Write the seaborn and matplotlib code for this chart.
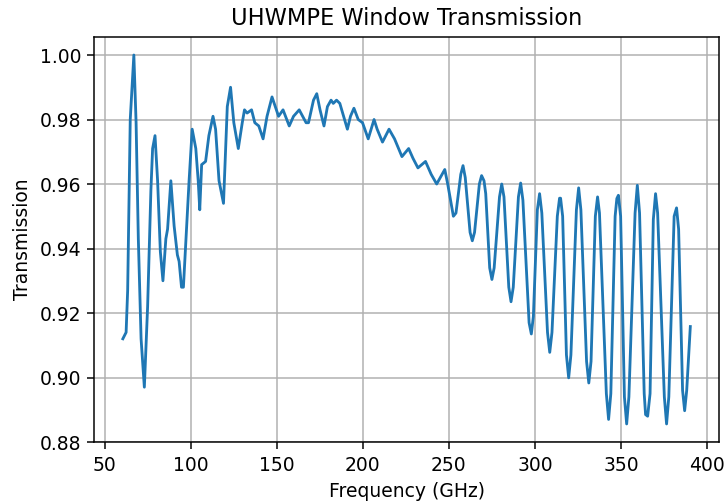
import matplotlib
matplotlib.use("Agg")
import matplotlib.pyplot as plt
import seaborn as sns
import pandas as pd

# Measured window transmission vs frequency
frequency_ghz = [
    60.5, 62.4, 63.3, 64.8, 66.9, 68.2, 69.5, 71.1, 73.0, 74.9,
    76.8, 77.8, 79.2, 80.7, 82.3, 83.8, 85.5, 86.5, 88.4, 90.3,
    92.2, 93.2, 94.6, 95.7, 97.6, 99.0, 100.8, 102.9, 104.3, 105.2,
    106.3, 108.6, 110.5, 112.9, 114.4, 116.4, 119.0, 121.2, 123.1, 125.0,
    127.6, 129.9, 131.2, 132.7, 135.3, 137.2, 139.5, 142.0, 144.3, 147.2,
    149.1, 151.0, 153.6, 157.2, 159.7, 163.0, 167.0, 168.4, 171.3, 173.2,
    175.1, 177.4, 179.4, 181.5, 182.8, 184.7, 186.6, 188.8, 191.0, 192.8,
    194.8, 197.3, 199.8, 203.1, 206.5, 208.3, 211.4, 215.2, 218.4, 222.7,
    226.6, 229.1, 232.0, 236.4, 239.7, 242.9, 247.6, 249.3, 252.6, 254.1,
    256.9, 258.2, 259.5, 262.3, 263.6, 264.9, 267.7, 269.0, 270.4, 271.4,
    273.7, 275.0, 276.3, 279.4, 280.7, 282.0, 284.8, 286.1, 287.4, 290.4,
    291.7, 293.0, 296.6, 297.9, 299.1, 301.4, 302.7, 304.0, 307.3, 308.6,
    309.9, 313.0, 314.3, 314.9, 316.1, 318.3, 319.6, 320.9, 324.1, 325.4,
    326.7, 330.0, 331.3, 332.6, 335.1, 336.4, 337.5, 341.5, 342.8, 344.1,
    346.6, 347.6, 348.5, 349.8, 352.0, 353.3, 354.6, 358.2, 359.5, 360.8,
    363.5, 364.3, 365.5, 366.9, 368.8, 370.1, 371.3, 375.2, 376.5, 377.8,
    380.9, 382.3, 383.5, 385.8, 387.0, 388.2, 390.3,
]
transmission = [
    0.912, 0.914, 0.927, 0.980, 1.000, 0.979, 0.943, 0.912, 0.897, 0.922,
    0.958, 0.971, 0.975, 0.961, 0.939, 0.930, 0.943, 0.946, 0.961, 0.947,
    0.938, 0.936, 0.928, 0.928, 0.947, 0.961, 0.977, 0.971, 0.961, 0.952,
    0.966, 0.967, 0.975, 0.981, 0.977, 0.961, 0.954, 0.984, 0.990, 0.979,
    0.971, 0.979, 0.983, 0.982, 0.983, 0.979, 0.978, 0.974, 0.981, 0.987,
    0.984, 0.981, 0.983, 0.978, 0.981, 0.983, 0.979, 0.979, 0.986, 0.988,
    0.983, 0.978, 0.984, 0.986, 0.985, 0.986, 0.985, 0.981, 0.977, 0.981,
    0.9835, 0.980, 0.979, 0.974, 0.980, 0.977, 0.973, 0.977, 0.974, 0.9685,
    0.971, 0.968, 0.965, 0.967, 0.963, 0.960, 0.9645, 0.960, 0.950, 0.951,
    0.963, 0.9657, 0.962, 0.945, 0.9424, 0.945, 0.960, 0.9626, 0.961, 0.957,
    0.934, 0.9304, 0.934, 0.956, 0.960, 0.956, 0.928, 0.9235, 0.928, 0.956,
    0.9603, 0.955, 0.917, 0.9135, 0.919, 0.952, 0.957, 0.951, 0.914, 0.9078,
    0.914, 0.950, 0.9556, 0.9556, 0.950, 0.907, 0.8999, 0.907, 0.952, 0.9588,
    0.952, 0.905, 0.8983, 0.905, 0.950, 0.956, 0.951, 0.895, 0.887, 0.895,
    0.950, 0.9555, 0.9565, 0.950, 0.894, 0.8856, 0.894, 0.951, 0.9596, 0.951,
    0.895, 0.8885, 0.8880, 0.895, 0.949, 0.957, 0.951, 0.894, 0.8856, 0.894,
    0.950, 0.9526, 0.946, 0.896, 0.8897, 0.896, 0.9158,
]

df = pd.DataFrame({"Frequency (GHz)": frequency_ghz, "Transmission": transmission})

DPI = 135
fig = plt.figure(figsize=(725 / DPI, 503 / DPI), dpi=DPI)
ax = fig.add_axes([0.1303, 0.1205, 0.861, 0.8068])

sns.lineplot(data=df, x="Frequency (GHz)", y="Transmission", ax=ax,
             estimator=None, color="#1f77b4", linewidth=1.5)

ax.set_title("UHWMPE Window Transmission")
ax.set_xlabel("Frequency (GHz)")
ax.set_ylabel("Transmission")
ax.grid(True, color="#b0b0b0", linewidth=0.8)

fig.savefig("out.png", dpi=DPI)
